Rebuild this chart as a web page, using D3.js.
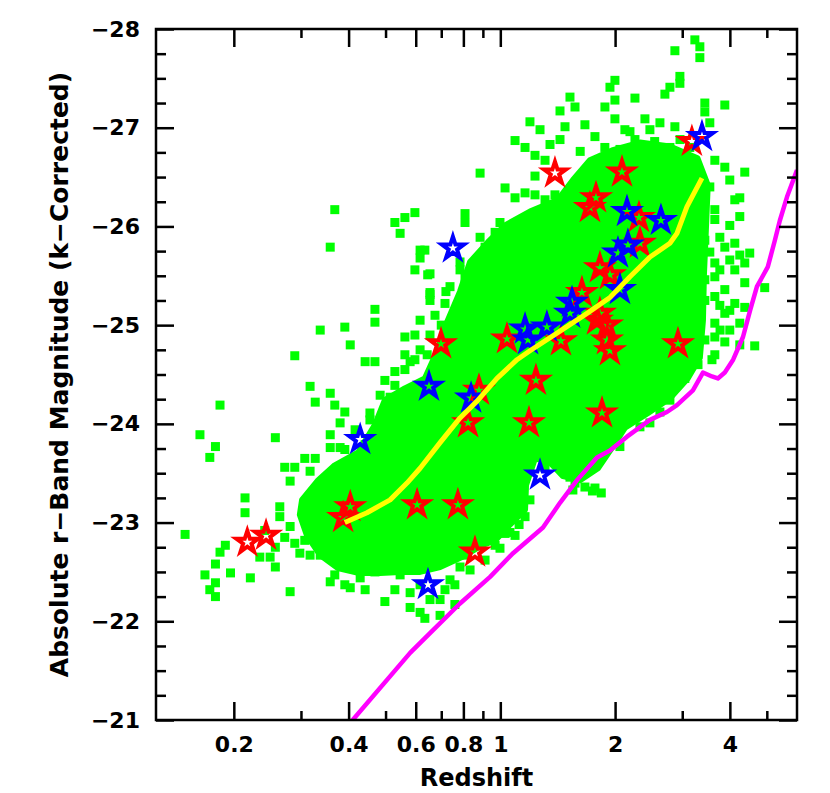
<!DOCTYPE html>
<html>
<head>
<meta charset="utf-8">
<script src="https://cdn.jsdelivr.net/npm/d3@7"></script>
<style>
body { margin: 0; background: #fff; }
svg text { font-family: "DejaVu Sans", sans-serif; font-weight: bold; }
</style>
</head>
<body>
<div class="chartContainer"></div>
<script>
//Colors
var pointFill = "#00ff00";
var redStar = "#ff0000";
var blueStar = "#0000ff";
var meanLine = "#ffff00";
var limitLine = "#ff00ff";

// Ticks
var xMajor = [0.2, 0.4, 0.6, 0.8, 1, 2, 4];
var xMinor = [0.3, 0.5, 0.7, 0.9, 3, 5];
var yMajor = [-28, -27, -26, -25, -24, -23, -22, -21];
var yMinor = [-27.75, -27.5, -27.25, -26.75, -26.5, -26.25, -25.75, -25.5, -25.25,
    -24.75, -24.5, -24.25, -23.75, -23.5, -23.25, -22.75, -22.5, -22.25, -21.75, -21.5, -21.25];

// Quasars: [redshift, magnitude]
// outline of the dense core of the sample
var coreOutline = [
    [0.298, -23.08], [0.302, -23.23], [0.333, -23.43], [0.368, -23.58], [0.424, -23.71], [0.469, -23.99],
    [0.498, -24.24], [0.562, -24.36], [0.634, -24.46], [0.682, -24.73], [0.725, -25.03], [0.784, -25.34],
    [0.833, -25.64], [0.928, -25.84], [1.029, -26.01], [1.196, -26.15], [1.417, -26.27], [1.551, -26.47],
    [1.718, -26.67], [1.963, -26.77], [2.324, -26.85], [2.785, -26.81], [3.29, -26.69], [3.50, -26.42],
    [3.46, -25.96], [3.42, -25.51], [3.40, -25.05], [3.337, -24.67], [3.10, -24.46], [2.785, -24.26],
    [2.44, -24.11], [2.122, -23.96], [1.963, -23.76], [1.803, -23.55], [1.618, -23.43], [1.46, -23.47],
    [1.350, -23.61], [1.233, -23.65], [1.168, -23.38], [1.161, -23.13], [1.060, -22.98], [0.969, -22.82],
    [0.895, -22.77], [0.793, -22.65],
    [0.695, -22.55], [0.616, -22.50], [0.546, -22.50], [0.484, -22.49], [0.424, -22.49], [0.375, -22.54],
    [0.337, -22.67], [0.311, -22.87]
];

// individual quasars outside / on the edge of the core
var quasars = [
    [0.368, -26.17], [0.358, -25.79], [0.529, -26.04], [0.562, -26.09], [0.546, -25.93], [0.597, -26.14],
    [0.616, -25.68], [0.597, -25.56], [0.469, -25.16], [0.469, -25.03], [0.337, -24.95], [0.391, -24.98],
    [0.404, -24.80], [0.562, -24.88], [0.597, -24.90], [0.289, -24.69], [0.442, -24.63], [0.469, -24.63],
    [0.562, -24.70], [0.580, -24.63], [0.529, -24.53], [0.498, -24.44], [0.317, -24.38], [0.358, -24.31],
    [0.327, -24.22], [0.368, -24.19], [0.391, -24.12], [0.380, -24.01], [0.358, -23.89], [0.358, -23.76],
    [0.380, -23.76], [0.484, -24.29], [0.514, -24.27], [0.455, -24.11],
    [0.634, -25.76], [0.645, -25.51], [0.654, -25.31], [0.720, -25.34], [0.643, -24.70], [0.597, -24.65],
    [0.507, -24.22], [0.616, -25.05], [0.654, -24.90], [0.616, -24.75], [0.562, -24.55], [0.529, -24.39],
    [0.674, -25.10], [0.700, -25.00],
    [0.184, -24.19], [0.163, -23.89], [0.179, -23.77], [0.173, -23.66], [0.257, -23.86], [0.149, -22.88],
    [0.214, -23.25], [0.214, -23.10], [0.264, -23.16], [0.190, -22.77], [0.184, -22.70], [0.179, -22.58],
    [0.168, -22.47], [0.179, -22.39], [0.173, -22.32], [0.179, -22.25], [0.196, -22.49], [0.221, -22.44],
    [0.234, -22.65], [0.249, -22.65], [0.257, -22.55], [0.281, -22.30], [0.272, -23.56], [0.289, -23.56],
    [0.317, -23.52], [0.281, -23.42], [0.307, -23.65], [0.327, -23.65],
    [0.264, -23.06], [0.281, -22.96], [0.272, -22.85], [0.257, -22.75], [0.298, -22.69], [0.289, -22.79],
    [0.241, -22.92], [0.307, -22.82], [0.327, -22.98], [0.317, -22.67], [0.337, -22.67],
    [0.416, -23.94], [0.442, -23.79], [0.391, -23.74], [0.455, -24.04], [0.498, -24.06],
    [0.358, -22.40], [0.404, -22.34], [0.368, -22.47], [0.498, -22.20], [0.580, -22.14], [0.616, -22.09],
    [0.634, -22.03], [0.580, -22.29], [0.429, -22.44], [0.469, -22.50], [0.546, -22.47], [0.695, -22.22],
    [0.716, -22.32], [0.738, -22.42], [0.808, -22.67], [0.784, -22.55], [0.885, -22.79], [0.969, -22.77],
    [1.029, -22.89], [1.060, -23.03], [0.969, -23.03], [0.912, -23.03], [1.029, -23.18], [1.161, -23.06],
    [1.196, -23.23], [0.833, -22.85], [0.760, -22.69], [0.695, -22.62], [0.634, -22.62], [1.196, -23.63],
    [1.310, -23.56], [1.434, -23.61], [1.523, -23.46], [1.667, -23.36], [1.771, -23.35], [1.570, -23.40],
    [2.059, -23.77], [2.324, -23.97], [2.468, -24.01], [2.622, -24.12], [2.785, -24.24], [3.048, -24.46],
    [3.30, -24.60], [2.785, -24.44], [2.958, -24.44],
    [0.391, -22.37], [0.442, -22.32], [0.529, -22.32], [0.616, -22.37], [0.654, -22.22], [0.760, -22.37],
    [0.833, -22.52], [0.912, -22.62], [0.998, -22.74], [1.093, -22.87], [0.760, -22.17], [0.695, -22.06],
    [3.238, -27.89], [3.337, -27.82], [2.870, -27.78], [3.337, -27.71], [1.998, -27.48], [1.939, -27.41],
    [2.958, -27.52], [2.958, -27.45], [2.785, -27.41], [2.702, -27.34], [2.255, -27.30], [1.998, -27.28],
    [1.881, -27.21], [1.570, -27.21], [3.439, -27.25], [3.439, -27.16], [3.880, -27.23], [1.998, -27.09],
    [2.395, -27.09], [2.622, -27.05], [2.468, -26.98], [2.188, -26.96], [2.122, -26.98], [1.667, -27.03],
    [1.771, -26.91], [2.870, -27.01], [3.544, -27.05], [2.255, -26.88], [2.395, -26.80], [2.785, -26.80],
    [3.238, -26.66], [3.653, -26.67], [3.880, -26.60], [4.377, -26.55], [3.998, -26.47], [3.544, -26.40],
    [4.247, -26.29], [4.121, -26.27], [3.653, -26.17], [3.653, -26.07], [4.247, -26.10], [3.998, -26.01],
    [3.765, -25.89], [3.544, -25.74], [3.880, -25.79], [4.121, -25.83], [4.510, -25.73], [4.377, -25.63],
    [4.937, -25.38], [3.653, -25.63], [3.653, -25.49], [3.880, -25.36], [4.377, -25.43], [3.653, -25.29],
    [4.121, -25.22], [4.377, -25.18], [3.880, -25.12], [3.653, -25.02], [4.247, -25.02], [3.653, -24.88],
    [3.880, -24.83], [4.247, -24.80], [4.648, -24.79], [3.653, -24.70], [3.998, -25.66], [3.765, -25.56],
    [4.121, -25.56], [4.247, -25.71], [3.998, -25.15], [3.765, -25.20], [3.439, -25.86], [3.439, -25.46],
    [3.439, -25.25], [3.998, -24.95], [3.59, -24.65], [3.44, -24.85], [3.77, -24.95],
    [1.523, -27.31], [1.434, -27.17], [1.196, -27.06], [1.271, -26.98], [1.478, -27.01], [1.093, -26.87],
    [1.161, -26.80], [1.350, -26.83], [1.434, -26.88], [1.233, -26.72], [1.310, -26.67], [0.885, -26.54],
    [1.233, -26.51], [1.029, -26.39], [1.093, -26.29], [1.161, -26.34], [1.233, -26.32], [1.310, -26.27],
    [1.391, -26.32], [0.808, -26.13], [0.808, -26.04], [0.616, -25.76], [0.654, -25.52], [0.885, -25.89],
    [0.912, -25.79], [0.912, -25.68], [0.969, -25.64], [0.912, -25.58], [0.998, -26.04], [0.969, -25.94],
    [0.784, -25.64], [0.784, -25.56], [0.808, -25.48], [0.738, -25.39], [0.654, -25.33], [0.654, -25.25],
    [0.716, -25.22], [1.233, -26.10], [1.350, -26.10], [1.478, -26.10],
    [1.62, -26.76], [1.88, -26.80], [2.06, -26.78], [2.54, -26.86], [2.96, -26.88], [3.14, -26.80],
    [1.744, -23.32], [1.84, -23.30], [1.55, -23.33], [1.12, -22.98], [1.06, -22.90]
];

var redStars = [
    [0.217, -22.80], [0.243, -22.87], [0.404, -23.16], [0.387, -23.05], [0.605, -23.18], [0.774, -23.18],
    [0.858, -22.70], [0.699, -24.81], [0.823, -24.01], [0.879, -24.34], [1.041, -24.86], [1.240, -24.44],
    [1.189, -24.01], [1.442, -24.84], [1.391, -26.54], [2.085, -26.55], [1.782, -26.29], [1.718, -26.19],
    [2.310, -26.09], [2.324, -25.83], [1.825, -25.58], [1.939, -25.51], [1.637, -25.33], [1.825, -25.12],
    [1.793, -25.05], [1.904, -25.00], [1.904, -24.85], [1.939, -24.74], [1.848, -24.11], [2.924, -24.81],
    [3.18, -26.86]
];

var blueStars = [
    [0.429, -23.84], [0.646, -22.37], [0.650, -24.38], [0.751, -25.78], [0.838, -24.26], [1.161, -24.96],
    [1.182, -24.85], [1.325, -24.98], [1.271, -23.48], [1.542, -25.23], [1.523, -25.12], [2.06, -25.36],
    [2.035, -25.73], [2.161, -25.81], [2.149, -26.15], [2.638, -26.06], [3.38, -26.91]
];

// running mean of the sample
var meanTrack = [
    [0.391, -23.00], [0.447, -23.10], [0.514, -23.23], [0.569, -23.40], [0.616, -23.55], [0.695, -23.81],
    [0.784, -24.06], [0.869, -24.23], [0.980, -24.46], [1.106, -24.65], [1.196, -24.74], [1.408, -24.92],
    [1.688, -25.12], [1.939, -25.28], [2.188, -25.49], [2.469, -25.69], [2.785, -25.83], [2.906, -25.93],
    [3.087, -26.20], [3.38, -26.49]
];

// survey flux limit
var limitTrack = [
    [0.41, -21.0], [0.580, -21.68], [0.654, -21.88], [0.784, -22.18], [0.940, -22.45], [1.080, -22.69],
    [1.294, -22.95], [1.434, -23.20], [1.589, -23.43], [1.793, -23.66], [1.939, -23.73], [2.149, -23.87],
    [2.469, -24.04], [2.735, -24.12], [2.906, -24.19], [3.20, -24.34], [3.40, -24.52], [3.59, -24.48],
    [3.72, -24.46], [3.88, -24.52], [4.08, -24.65], [4.33, -24.88], [4.52, -25.15], [4.71, -25.39],
    [5.03, -25.59], [5.25, -25.86], [5.41, -26.06], [5.65, -26.30], [6.0, -26.57]
];

var width = 830, height = 793;
var plotLeft = 156, plotRight = 797, plotTop = 29, plotBottom = 720;

var svg = d3.select(".chartContainer").append("svg")
    .attr("width", width)
    .attr("height", height);

var x = d3.scaleLog().domain([0.125, 6]).range([plotLeft, plotRight]);
var y = d3.scaleLinear().domain([-28, -21]).range([plotTop, plotBottom]);

svg.append("clipPath").attr("id", "plotClip")
    .append("rect")
    .attr("x", plotLeft).attr("y", plotTop)
    .attr("width", plotRight - plotLeft).attr("height", plotBottom - plotTop);

var plot = svg.append("g").attr("clip-path", "url(#plotClip)");

//Points
plot.append("path")
    .datum(coreOutline)
    .attr("d", d3.line().x(d => x(d[0])).y(d => y(d[1])).curve(d3.curveLinearClosed))
    .style("fill", pointFill)
    .style("stroke", pointFill)
    .style("stroke-width", 6)
    .style("stroke-linejoin", "round");

var square = d3.symbol().type(d3.symbolSquare).size(81);
plot.selectAll(".quasar").data(quasars).enter().append("path")
    .attr("class", "quasar")
    .attr("transform", d => "translate(" + x(d[0]) + "," + y(d[1]) + ")")
    .attr("d", square)
    .style("fill", pointFill);

//Stars
var star = d3.symbol().type(d3.symbolStar).size(150);
plot.selectAll(".redStar").data(redStars).enter().append("path")
    .attr("class", "redStar")
    .attr("transform", d => "translate(" + x(d[0]) + "," + y(d[1]) + ")")
    .attr("d", star)
    .style("fill", "none")
    .style("stroke", redStar)
    .style("stroke-width", 4);

plot.selectAll(".blueStar").data(blueStars).enter().append("path")
    .attr("class", "blueStar")
    .attr("transform", d => "translate(" + x(d[0]) + "," + y(d[1]) + ")")
    .attr("d", star)
    .style("fill", "none")
    .style("stroke", blueStar)
    .style("stroke-width", 4);

//Lines
var line = d3.line().x(d => x(d[0])).y(d => y(d[1]));

plot.append("path")
    .datum(meanTrack)
    .attr("d", line)
    .style("fill", "none")
    .style("stroke", meanLine)
    .style("stroke-width", 5)
    .style("stroke-linejoin", "round");

plot.append("path")
    .datum(limitTrack)
    .attr("d", line)
    .style("fill", "none")
    .style("stroke", limitLine)
    .style("stroke-width", 4.5)
    .style("stroke-linejoin", "round");

//Axes
var minus = d => "\u2212" + Math.abs(d);

function styleAxis(g) {
    g.select(".domain").remove();
    g.attr("font-family", null).attr("font-size", null);
    g.selectAll(".tick line").style("stroke", "#000").style("stroke-width", 2.5);
    g.selectAll(".tick text").style("font-size", "22px").style("fill", "#000");
}

svg.append("g").attr("transform", "translate(0," + plotBottom + ")")
    .call(d3.axisBottom(x).tickValues(xMajor).tickFormat(d => String(d)).tickSize(-18).tickPadding(16))
    .call(styleAxis);
svg.append("g").attr("transform", "translate(0," + plotBottom + ")")
    .call(d3.axisBottom(x).tickValues(xMinor).tickFormat("").tickSize(-9))
    .call(styleAxis);
svg.append("g").attr("transform", "translate(0," + plotTop + ")")
    .call(d3.axisTop(x).tickValues(xMajor).tickFormat("").tickSize(-18))
    .call(styleAxis);
svg.append("g").attr("transform", "translate(0," + plotTop + ")")
    .call(d3.axisTop(x).tickValues(xMinor).tickFormat("").tickSize(-9))
    .call(styleAxis);

svg.append("g").attr("transform", "translate(" + plotLeft + ",0)")
    .call(d3.axisLeft(y).tickValues(yMajor).tickFormat(minus).tickSize(-18).tickPadding(16))
    .call(styleAxis);
svg.append("g").attr("transform", "translate(" + plotLeft + ",0)")
    .call(d3.axisLeft(y).tickValues(yMinor).tickFormat("").tickSize(-10))
    .call(styleAxis);
svg.append("g").attr("transform", "translate(" + plotRight + ",0)")
    .call(d3.axisRight(y).tickValues(yMajor).tickFormat("").tickSize(-18))
    .call(styleAxis);
svg.append("g").attr("transform", "translate(" + plotRight + ",0)")
    .call(d3.axisRight(y).tickValues(yMinor).tickFormat("").tickSize(-10))
    .call(styleAxis);

svg.append("rect")
    .attr("x", plotLeft).attr("y", plotTop)
    .attr("width", plotRight - plotLeft).attr("height", plotBottom - plotTop)
    .style("fill", "none")
    .style("stroke", "#000")
    .style("stroke-width", 2.5);

//Titles
svg.append("text")
    .text("Redshift")
    .attr("x", (plotLeft + plotRight) / 2)
    .attr("y", 786)
    .attr("text-anchor", "middle")
    .attr("font-size", "24px")
    .attr("fill", "#000");

svg.append("text")
    .text("Absolute r\u2212Band Magnitude (k\u2212Corrected)")
    .attr("transform", "translate(68," + (plotTop + plotBottom) / 2 + ") rotate(-90)")
    .attr("text-anchor", "middle")
    .attr("font-size", "25px")
    .attr("fill", "#000");
</script>
</body>
</html>
